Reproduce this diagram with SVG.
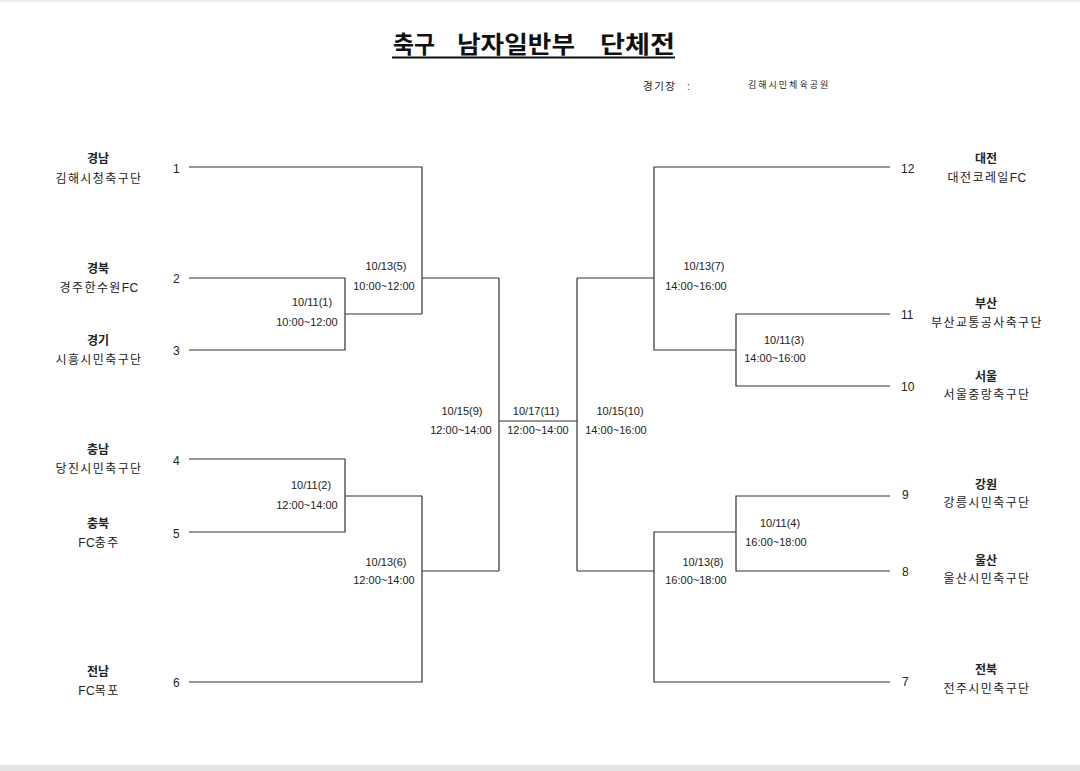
<svg xmlns="http://www.w3.org/2000/svg" width="1080" height="771" viewBox="0 0 1080 771">
<style>
.ln{stroke:#333;stroke-width:1.2;fill:none}
text{font-family:"Liberation Sans","Noto Sans CJK KR",sans-serif;fill:#222}
.t{font-size:24px;font-weight:700;fill:#111}
.m{font-size:11px;text-anchor:middle}
.p{font-size:12px;font-weight:700;text-anchor:middle}
.n{font-size:12px;text-anchor:middle;letter-spacing:1.4px}
.fc{letter-spacing:0.3px}
.num{font-size:12px}
.v{font-size:10.5px;letter-spacing:1.5px}
</style>
<rect x="0" y="0" width="1080" height="771" fill="#fff"/>
<rect x="0" y="0" width="1080" height="2" fill="#ececec"/>
<rect x="0" y="765" width="1080" height="6" fill="#e4e4e4"/>
<g id="title">
<text class="t" x="393" y="53" textLength="42" lengthAdjust="spacingAndGlyphs">축구</text>
<text class="t" x="457" y="53" textLength="118" lengthAdjust="spacingAndGlyphs">남자일반부</text>
<text class="t" x="600" y="53" textLength="75" lengthAdjust="spacingAndGlyphs">단체전</text>
<line x1="392" y1="57.5" x2="675" y2="57.5" stroke="#111" stroke-width="2"/>
</g>
<g id="venue">
<text class="v" x="643" y="90">경기장</text>
<text class="v" x="687" y="90">:</text>
<text x="748" y="88" style="font-size:9px;letter-spacing:2px">김해시민체육공원</text>
</g>
<g id="connectors">
<path class="ln" d="M189,167H422V314 M189,278H345V350H189 M345,314H422 M422,278H499 M189,459H345V532H189 M345,496H422V682H189 M422,571H499 M499,278V571 M499,421H577 M577,278V571"/>
<path class="ln" d="M577,278H654 M890,167H654V350H736 M890,314H736V386H890 M890,496H736V571H890 M736,532H654V682H890 M654,571H577"/>
</g>
<g id="team1"><text class="p" x="98" y="163">경남</text><text class="n" x="99" y="183">김해시청축구단</text><text class="num" x="173" y="173">1</text></g>
<g id="team2"><text class="p" x="98" y="273">경북</text><text class="n" x="99" y="292">경주한수원<tspan class="fc">FC</tspan></text><text class="num" x="173" y="283">2</text></g>
<g id="team3"><text class="p" x="98" y="345">경기</text><text class="n" x="99" y="364">시흥시민축구단</text><text class="num" x="173" y="355">3</text></g>
<g id="team4"><text class="p" x="98" y="454">충남</text><text class="n" x="99" y="473">당진시민축구단</text><text class="num" x="173" y="465">4</text></g>
<g id="team5"><text class="p" x="98" y="528">충북</text><text class="n" x="99" y="547"><tspan class="fc">FC</tspan>충주</text><text class="num" x="173" y="538">5</text></g>
<g id="team6"><text class="p" x="98" y="676">전남</text><text class="n" x="99" y="695"><tspan class="fc">FC</tspan>목포</text><text class="num" x="173" y="687">6</text></g>
<g id="team12"><text class="p" x="986" y="163">대전</text><text class="n" x="987" y="182">대전코레일<tspan class="fc">FC</tspan></text><text class="num" x="901" y="173">12</text></g>
<g id="team11"><text class="p" x="986" y="308">부산</text><text class="n" x="987" y="327">부산교통공사축구단</text><text class="num" x="901" y="319">11</text></g>
<g id="team10"><text class="p" x="986" y="381">서울</text><text class="n" x="987" y="399">서울중랑축구단</text><text class="num" x="901" y="391">10</text></g>
<g id="team9"><text class="p" x="986" y="489">강원</text><text class="n" x="987" y="507">강릉시민축구단</text><text class="num" x="902" y="499">9</text></g>
<g id="team8"><text class="p" x="986" y="565">울산</text><text class="n" x="987" y="583">울산시민축구단</text><text class="num" x="902" y="576">8</text></g>
<g id="team7"><text class="p" x="986" y="674">전북</text><text class="n" x="987" y="693">전주시민축구단</text><text class="num" x="902" y="686">7</text></g>
<g id="match5"><text class="m" x="386" y="270">10/13(5)</text><text class="m" x="384" y="290">10:00~12:00</text></g>
<g id="match1"><text class="m" x="312" y="306">10/11(1)</text><text class="m" x="307" y="326">10:00~12:00</text></g>
<g id="match2"><text class="m" x="311" y="489">10/11(2)</text><text class="m" x="307" y="509">12:00~14:00</text></g>
<g id="match6"><text class="m" x="386" y="566">10/13(6)</text><text class="m" x="384" y="584">12:00~14:00</text></g>
<g id="match9"><text class="m" x="462" y="415">10/15(9)</text><text class="m" x="461" y="434">12:00~14:00</text></g>
<g id="match11"><text class="m" x="536" y="415">10/17(11)</text><text class="m" x="538" y="434">12:00~14:00</text></g>
<g id="match10"><text class="m" x="620" y="415">10/15(10)</text><text class="m" x="616" y="434">14:00~16:00</text></g>
<g id="match7"><text class="m" x="704" y="270">10/13(7)</text><text class="m" x="696" y="290">14:00~16:00</text></g>
<g id="match3"><text class="m" x="784" y="344">10/11(3)</text><text class="m" x="775" y="362">14:00~16:00</text></g>
<g id="match4"><text class="m" x="780" y="527">10/11(4)</text><text class="m" x="776" y="546">16:00~18:00</text></g>
<g id="match8"><text class="m" x="703" y="566">10/13(8)</text><text class="m" x="696" y="584">16:00~18:00</text></g>
</svg>
